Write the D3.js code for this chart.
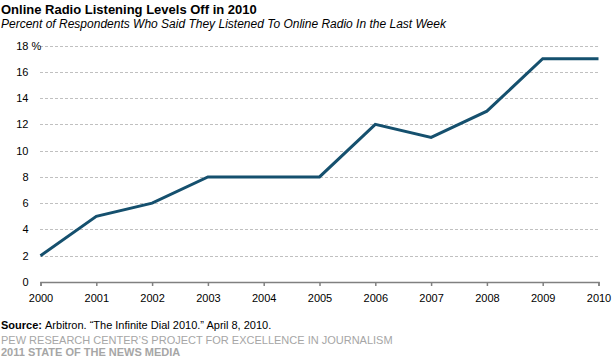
<!DOCTYPE html>
<html>
<head>
<meta charset="utf-8">
<script src="https://cdn.jsdelivr.net/npm/d3@7"></script>
<style>
  body { margin: 0; background: #fff; }
  svg { display: block; font-family: Arial, "Liberation Sans", sans-serif; }
</style>
</head>
<body>
<div id="chart"></div>
<script>
// data
const years  = [2000, 2001, 2002, 2003, 2004, 2005, 2006, 2007, 2008, 2009, 2010];
const values = [2, 5, 6, 8, 8, 8, 12, 11, 13, 17, 17];
const yTicks = [0, 2, 4, 6, 8, 10, 12, 14, 16, 18];

const width = 616, height = 363;
const svg = d3.select("#chart").append("svg")
    .attr("width", width)
    .attr("height", height);

// titles
svg.append("text")
    .attr("x", 1).attr("y", 14)
    .style("font-size", "13px").style("font-weight", "bold")
    .attr("fill", "#000")
    .text("Online Radio Listening Levels Off in 2010");

svg.append("text")
    .attr("x", 1).attr("y", 28)
    .style("font-size", "12px").style("font-style", "italic")
    .attr("fill", "#000")
    .text("Percent of Respondents Who Said They Listened To Online Radio In the Last Week");

// scales
const x = d3.scaleLinear().domain([2000, 2010]).range([40.5, 598.5]);
const y = d3.scaleLinear().domain([0, 18]).range([282, 45.5]);

// gridlines
svg.append("g")
  .selectAll("line")
  .data(yTicks.filter(d => d > 0))
  .enter().append("line")
    .attr("x1", 40).attr("x2", 599)
    .attr("y1", d => Math.round(y(d)) + 0.5)
    .attr("y2", d => Math.round(y(d)) + 0.5)
    .attr("stroke", "#c0c0c0")
    .attr("stroke-dasharray", "3,2");

// y labels
const yl = svg.append("g").style("font-size", "11px").attr("fill", "#000");
yl.selectAll("text")
  .data(yTicks)
  .enter().append("text")
    .attr("x", 28.5)
    .attr("y", d => y(d) + 4)
    .attr("text-anchor", "end")
    .text(d => d);
yl.append("text")
    .attr("x", 31.5).attr("y", y(18) + 4)
    .text("%");

// x axis
const xAxis = d3.axisBottom(x)
    .tickValues(years)
    .tickFormat(d3.format("d"))
    .tickSize(4)
    .tickSizeOuter(4);

const gx = svg.append("g")
    .attr("transform", "translate(0,282)")
    .call(xAxis);
gx.select(".domain").attr("stroke", "#808080").attr("stroke-width", 1.5);
gx.selectAll(".tick line").attr("stroke", "#808080").attr("stroke-width", 1.5);
gx.selectAll(".tick text")
    .attr("y", 12)
    .style("font-size", "11px")
    .style("font-family", "Arial, 'Liberation Sans', sans-serif")
    .attr("fill", "#000");

// line
const line = d3.line()
    .x((d, i) => x(years[i]))
    .y(d => y(d));

svg.append("path")
    .datum(values)
    .attr("d", line)
    .attr("fill", "none")
    .attr("stroke", "#15506e")
    .attr("stroke-width", 3)
    .attr("stroke-linejoin", "miter");

// footer
const src = svg.append("text")
    .attr("x", 1).attr("y", 329)
    .style("font-size", "11px")
    .attr("fill", "#000");
src.append("tspan").style("font-weight", "bold").text("Source: ");
src.append("tspan").text("Arbitron. \u201cThe Infinite Dial 2010.\u201d April 8, 2010.");

svg.append("text")
    .attr("x", 1).attr("y", 344)
    .style("font-size", "11px")
    .attr("fill", "#a6a6a6")
    .text("PEW RESEARCH CENTER\u2019S PROJECT FOR EXCELLENCE IN JOURNALISM");

svg.append("text")
    .attr("x", 1).attr("y", 356)
    .style("font-size", "11px").style("font-weight", "bold")
    .attr("fill", "#a6a6a6")
    .text("2011 STATE OF THE NEWS MEDIA");
</script>
</body>
</html>
